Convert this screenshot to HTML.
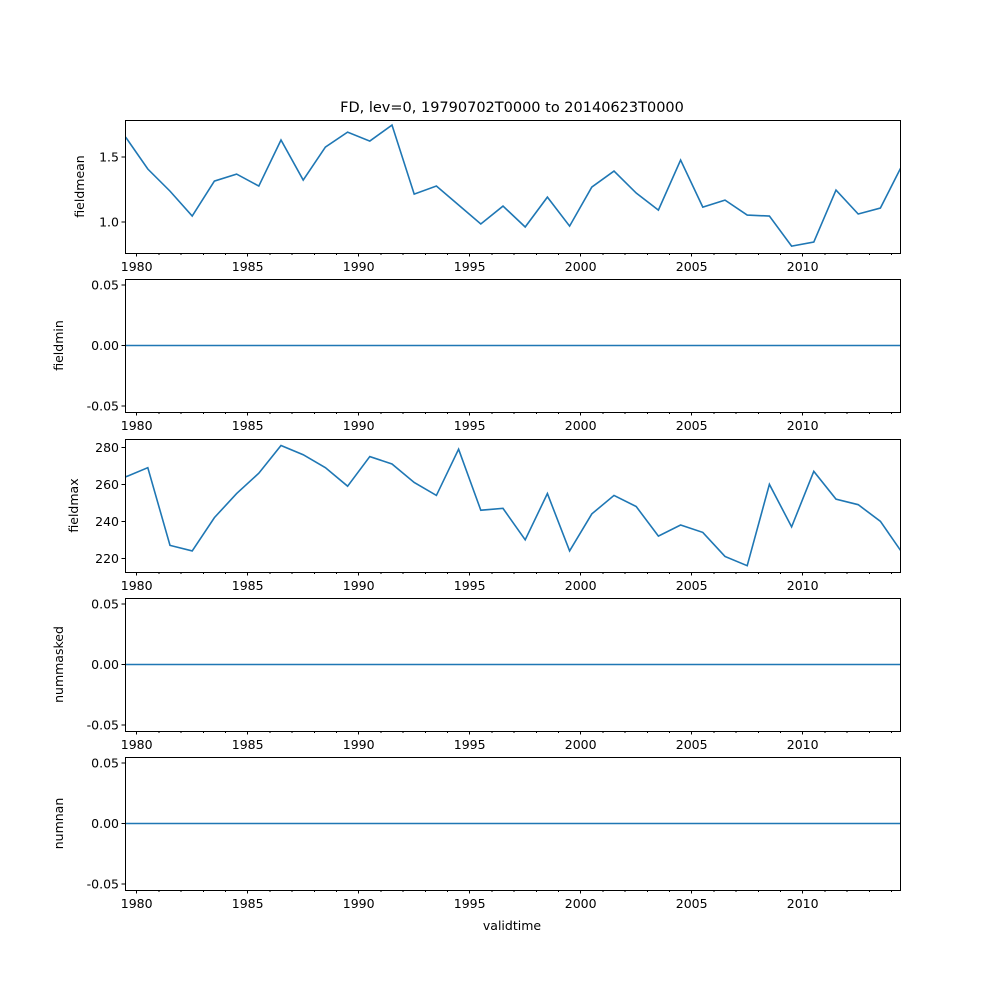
<!DOCTYPE html>
<html><head><meta charset="utf-8"><style>
body{margin:0;background:#fff}
svg{display:block;font-family:"DejaVu Sans","Liberation Sans",sans-serif}
</style></head><body>
<svg id="fig" width="1000" height="1000"></svg>
<script>
const years=[1979.5,1980.5,1981.5,1982.5,1983.5,1984.5,1985.5,1986.5,1987.5,1988.5,1989.5,1990.5,1991.5,1992.5,1993.5,1994.5,1995.5,1996.5,1997.5,1998.5,1999.5,2000.5,2001.5,2002.5,2003.5,2004.5,2005.5,2006.5,2007.5,2008.5,2009.5,2010.5,2011.5,2012.5,2013.5,2014.48];
const fieldmean=[1.654,1.408,1.238,1.046,1.315,1.369,1.277,1.631,1.323,1.577,1.692,1.623,1.746,1.215,1.277,1.131,0.985,1.123,0.962,1.192,0.969,1.269,1.392,1.223,1.092,1.477,1.115,1.169,1.054,1.046,0.815,0.846,1.246,1.062,1.108,1.438];
const fieldmax=[264,269,227,224,242,255,266,281,276,269,259,275,271,261,254,279,246,247,230,255,224,244,254,248,232,238,234,221,216,260,237,267,252,249,240,223];
const zeros=years.map(()=>0);
const xTicks=[1980,1985,1990,1995,2000,2005,2010];
const panels=[
 {name:'fieldmean',vals:fieldmean,ymin:0.762,ymax:1.785,ticks:[1.0,1.5],fmt:v=>v.toFixed(1),top:120},
 {name:'fieldmin',vals:zeros,ymin:-0.055,ymax:0.055,ticks:[-0.05,0,0.05],fmt:v=>v.toFixed(2),top:279},
 {name:'fieldmax',vals:fieldmax,ymin:212.6,ymax:284.5,ticks:[220,240,260,280],fmt:v=>String(v),top:439},
 {name:'nummasked',vals:zeros,ymin:-0.055,ymax:0.055,ticks:[-0.05,0,0.05],fmt:v=>v.toFixed(2),top:598},
 {name:'numnan',vals:zeros,ymin:-0.055,ymax:0.055,ticks:[-0.05,0,0.05],fmt:v=>v.toFixed(2),top:757}
];
const NS='http://www.w3.org/2000/svg';
const svg=document.getElementById('fig');
const L=125,R=900,H=133;
function xs(t){return 136.7+(t-1980)*22.2;}
function mk(tag,at,parent){const e=document.createElementNS(NS,tag);for(const k in at)e.setAttribute(k,at[k]);(parent||svg).appendChild(e);return e;}
const title=mk('text',{x:512,y:112,'text-anchor':'middle','font-size':'14.5',fill:'#000'});
title.textContent='FD, lev=0, 19790702T0000 to 20140623T0000';


panels.forEach(p=>{
 const g=mk('g',{});
 
 
 const T=p.top,B=p.top+H;
 const ys=v=>B-(v-p.ymin)/(p.ymax-p.ymin)*H;
 const cp='c'+p.name;
 const clip=mk('clipPath',{id:cp},g);mk('rect',{x:L,y:T,width:R-L,height:H},clip);
 const pts=p.vals.map((v,i)=>xs(years[i]).toFixed(2)+','+ys(v).toFixed(2)).join(' ');
 const line=mk('polyline',{points:pts,fill:'none',stroke:'#1f77b4','stroke-width':1.6,'clip-path':'url(#'+cp+')'},g);
 
 
 const fr=mk('rect',{x:L+0.5,y:T+0.5,width:R-L,height:H,fill:'none',stroke:'#000','stroke-width':1,'shape-rendering':'crispEdges'},g);
 
 
 p.ticks.forEach(v=>{
  const y=ys(v);
  mk('line',{x1:L-3.5,x2:L,y1:y,y2:y,stroke:'#000','stroke-width':1,'shape-rendering':'crispEdges'},g);
  const t=mk('text',{x:L-6,y:y+4.5,'text-anchor':'end','font-size':'12.5',fill:'#000'},g);
  t.textContent=p.fmt(v);
  
  
 });
 for(let yr=1980;yr<=2014;yr++){
  const x=xs(yr);const major=xTicks.includes(yr);
  mk('line',{x1:x,x2:x,y1:B,y2:B+(major?3.5:2),stroke:'#000','stroke-width':1,'shape-rendering':'crispEdges'},g);
 }
 xTicks.forEach(yr=>{
  const t=mk('text',{x:xs(yr),y:B+18,'text-anchor':'middle','font-size':'12.5',fill:'#000'},g);
  t.textContent=String(yr);
  
  
 });
 const yl=mk('text',{x:0,y:0,'text-anchor':'middle','font-size':'12.5',fill:'#000',transform:'translate('+(p.name==='fieldmean'?84:(p.name==='fieldmax'?78:63))+','+(T+H/2)+') rotate(-90)'},g);
 yl.textContent=p.name;
 
 
});
const xl=mk('text',{x:512,y:930,'text-anchor':'middle','font-size':'12.5',fill:'#000'});
xl.textContent='validtime';


</script>
</body></html>
